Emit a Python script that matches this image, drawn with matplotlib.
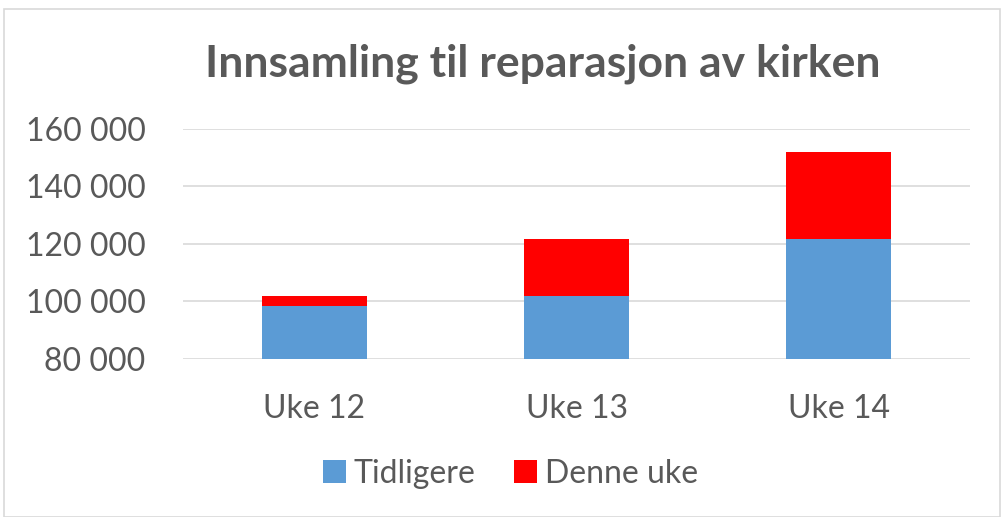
import matplotlib.pyplot as plt
from matplotlib.patches import Rectangle

# data
uker = ["Uke 12", "Uke 13", "Uke 14"]
tidligere = [98500, 102000, 121700]
denne_uke = [3500, 19700, 30300]
yticks = [80000, 100000, 120000, 140000, 160000]

plt.rcParams['font.family'] = ['Lato', 'DejaVu Sans']
grey = '#595959'

fig = plt.figure(figsize=(10.05, 5.17), dpi=100)
# chart border
fig.patches.append(Rectangle((4 / 1005, 0), 996 / 1005, 1 - 9 / 517, transform=fig.transFigure,
                             fill=False, edgecolor='#d9d9d9', linewidth=1.2))

ax = fig.add_axes([183 / 1005, 1 - 359 / 517, 787 / 1005, 230 / 517])
x = range(len(uker))
ax.bar(x, tidligere, width=0.4, color='#5b9bd5', label='Tidligere', zorder=3)
ax.bar(x, denne_uke, width=0.4, bottom=tidligere, color='#ff0000', label='Denne uke', zorder=3)

ax.set_ylim(80000, 160000)
ax.set_xlim(-0.5, 2.5)
ax.set_yticks(yticks)
ax.set_yticklabels([f"{v:,}".replace(",", " ") for v in yticks])
ax.set_xticks(list(x))
ax.set_xticklabels(uker)
ax.tick_params(axis='both', length=0, labelsize=23, colors=grey)
ax.tick_params(axis='y', pad=27)
ax.tick_params(axis='x', pad=25)
ax.grid(axis='y', color='#d9d9d9', linewidth=1.2, zorder=0)
for s in ax.spines.values():
    s.set_visible(False)

fig.text(0.54, 1 - 64 / 517, "Innsamling til reparasjon av kirken", ha='center', va='center',
         fontsize=32, fontweight='bold', color=grey)

fig.legend(loc='center', bbox_to_anchor=(0.508, 1 - 474 / 517), ncol=2, frameon=False,
           fontsize=23, labelcolor=grey, handlelength=0.72, handleheight=0.72,
           columnspacing=1.2, handletextpad=0.25)

fig.savefig('out.png', dpi=100)
